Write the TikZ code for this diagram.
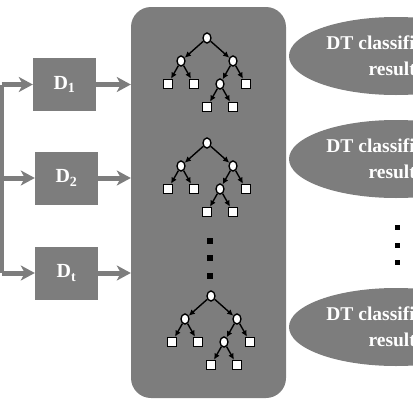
\documentclass[tikz,border=0pt]{standalone}
\usepackage{fontspec}
\setmainfont{Liberation Serif}
\usetikzlibrary{shapes.geometric,arrows.meta}
\definecolor{boxgray}{RGB}{125,125,125}

\begin{document}
\begin{tikzpicture}
[
x=1pt, y=-1pt,
level distance=26pt,
level 1/.style={sibling distance=52pt, level distance=23pt},
level 2/.style={sibling distance=26pt},
level 3/.style={sibling distance=26pt},
split/.style={ellipse, draw, fill=white, line width=1.4pt, minimum width=8pt, minimum height=10pt, inner sep=0pt},
leaf/.style={rectangle, draw, fill=white, line width=1.8pt, minimum size=9pt, inner sep=0pt},
edge from parent/.style={draw, line width=1.4pt, -{Latex[length=6pt,width=6pt]}},
dbox/.style={fill=boxgray, minimum width=63pt, minimum height=53pt, text=white, font=\bfseries\fontsize{20}{22}\selectfont},
result/.style={ellipse, fill=boxgray, minimum width=214pt, minimum height=78pt, text=white, align=center, font=\bfseries\fontsize{19.5}{26}\selectfont},
fat/.style={draw=boxgray, line width=5pt},
fatarrow/.style={fat, -{Stealth[length=14pt,width=15pt,inset=4pt]}},
dot/.style={fill=black, minimum size=6pt, inner sep=0pt}
]
\useasboundingbox (0,0) rectangle (413,413);
\clip (0,0) rectangle (413,413);

% the forest
\node[fill=boxgray, rounded corners=20pt, minimum width=155pt, minimum height=391pt] (forest) at (208.5,202.5) {};

\foreach \tx/\ty/\n in {207/38/1, 207/143/2, 211/296/3}{
\node[split] (root\n) at (\tx,\ty) {}
child {node[split] {}
	child {node[leaf] {}}
	child {node[leaf] {}}
}
child {node[split] {}
	child {node[split] {}
		child {node[leaf] {}}
		child {node[leaf] {}}
	}
	child {node[leaf] {}}
};
}

\foreach \y/\n in {241/1, 258/2, 276/3}
	\node[dot] (gap\n) at (210,\y) {};

% subsets
\node[dbox] (D1) at (64.5,84.5) {D\textsubscript{1}};
\node[dbox] (D2) at (66.5,178) {D\textsubscript{2}};
\node[dbox] (Dt) at (66.5,273) {D\textsubscript{t}};

\coordinate (split) at (1.5,0);
\draw[fat] (D1.west -| split) -- (Dt.west -| split);
\foreach \d in {D1,D2,Dt}{
	\draw[fatarrow] (\d.west -| split) -- (\d.west);
	\draw[fatarrow] (\d.east) -- (\d.east -| forest.west);
}

% results
\node[result] (res1) at (396,56) {DT classification\\results};
\node[result] (res2) at (396,159) {DT classification\\results};
\node[result] (res3) at (396,327) {DT classification\\results};

\foreach \y/\n in {227/1, 245/2, 262/3}
	\node[dot, minimum size=5pt] (more\n) at (397,\y) {};
\end{tikzpicture}
\end{document}
